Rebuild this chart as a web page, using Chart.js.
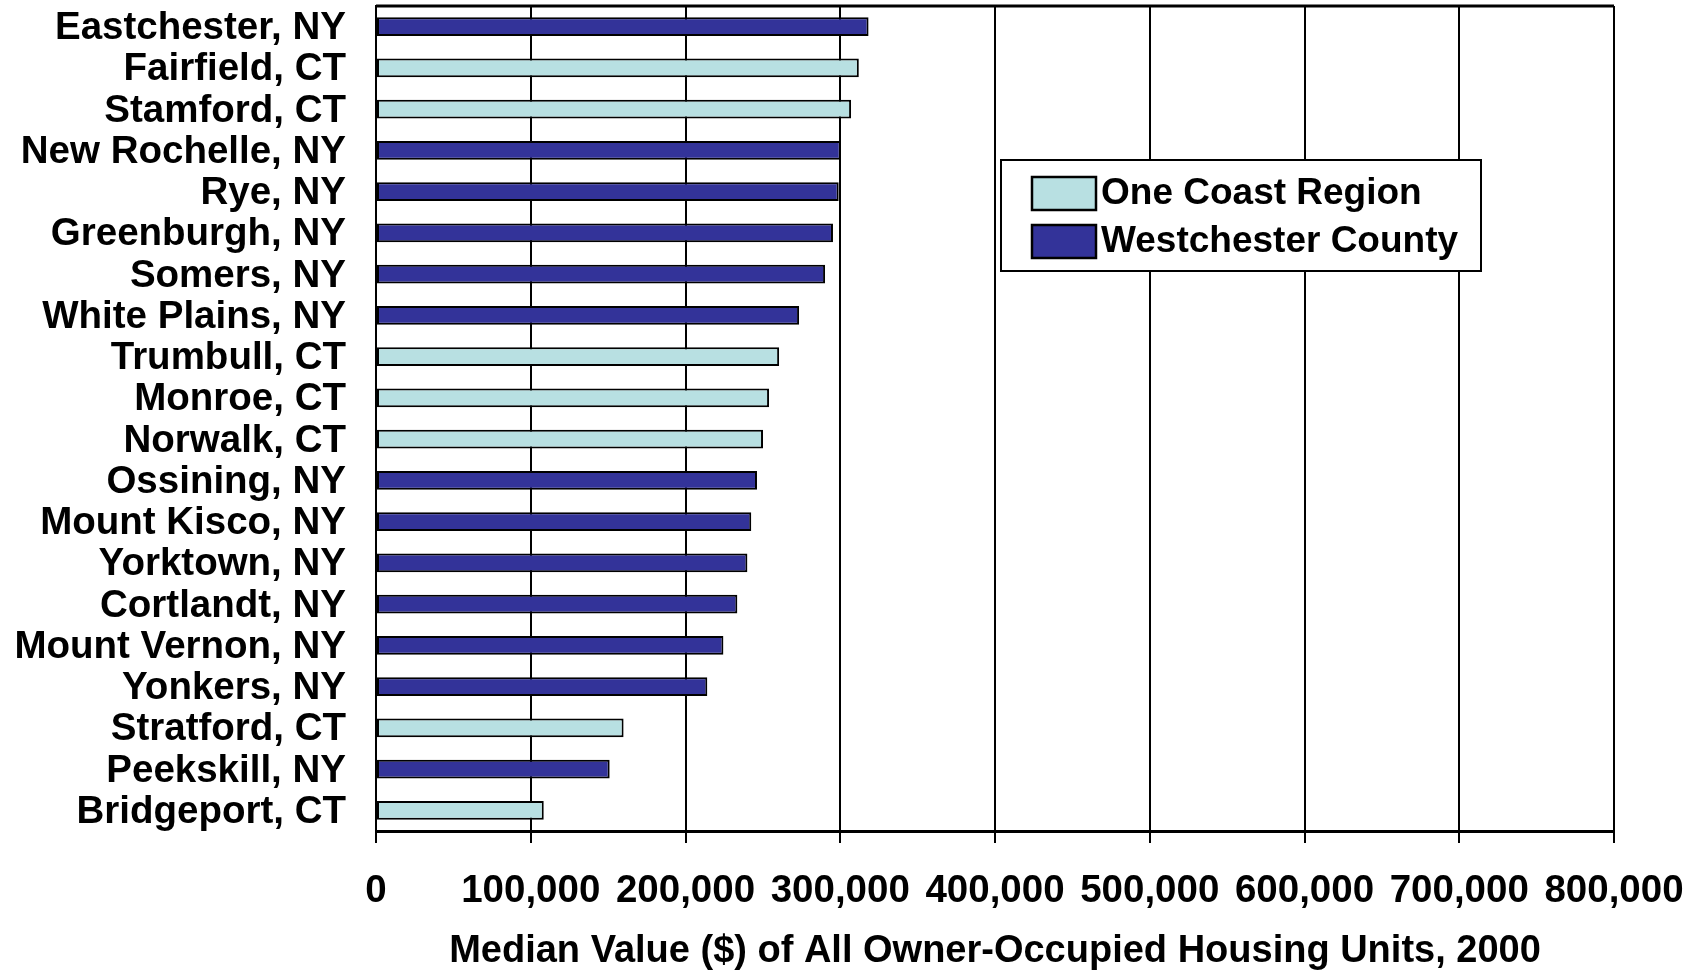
<!DOCTYPE html>
<html>
<head>
<meta charset="utf-8">
<script src="https://cdn.jsdelivr.net/npm/chart.js@4/dist/chart.umd.min.js"></script>
<style>
html,body{margin:0;padding:0;background:#fff;}
#wrap{width:1698px;height:971px;position:relative;}
</style>
</head>
<body>
<div id="wrap"><canvas id="c" width="1698" height="971"></canvas></div>
<script>
const categories = ["Eastchester, NY","Fairfield, CT","Stamford, CT","New Rochelle, NY","Rye, NY","Greenburgh, NY","Somers, NY","White Plains, NY","Trumbull, CT","Monroe, CT","Norwalk, CT","Ossining, NY","Mount Kisco, NY","Yorktown, NY","Cortlandt, NY","Mount Vernon, NY","Yonkers, NY","Stratford, CT","Peekskill, NY","Bridgeport, CT"];
const oneCoast = [null,312000,307000,null,null,null,null,null,260500,254000,250100,null,null,null,null,null,null,160000,null,108400];
const westchester = [318300,null,null,300300,299000,295300,290200,273400,null,null,null,246200,242500,240000,233500,224500,214100,null,151000,null];
const seriesNames = ["One Coast Region","Westchester County"];
const xTicks = {min:0,max:800000,step:100000};
const axisTitle = "Median Value ($) of All Owner-Occupied Housing Units, 2000";

const FONT = "'Liberation Sans', Arial, sans-serif";

const framePlugin = {
  id:'frame',
  beforeDatasetsDraw(chart){
    const a = chart.chartArea, ctx = chart.ctx;
    ctx.save();
    ctx.strokeStyle = '#000';
    ctx.lineWidth = 3;
    ctx.beginPath();
    ctx.moveTo(a.left, a.top);
    ctx.lineTo(a.right, a.top);
    ctx.stroke();
    ctx.restore();
  }
};

const legendPlugin = {
  id:'boxLegend',
  afterDraw(chart){
    const ctx = chart.ctx;
    const x0 = 1001, y0 = 160, w = 480, h = 111;
    ctx.save();
    ctx.fillStyle = '#fff';
    ctx.fillRect(x0, y0, w, h);
    ctx.strokeStyle = '#000';
    ctx.lineWidth = 2;
    ctx.strokeRect(x0, y0, w, h);
    const rows = [193, 241];
    chart.data.datasets.forEach((ds, i) => {
      const cy = rows[i];
      ctx.fillStyle = ds.backgroundColor;
      ctx.fillRect(1032, cy - 16, 64, 33);
      ctx.lineWidth = 2.5;
      ctx.strokeRect(1032, cy - 16, 64, 33);
      ctx.fillStyle = '#000';
      ctx.font = "bold 37px " + FONT;
      ctx.textBaseline = 'middle';
      ctx.textAlign = 'left';
      ctx.fillText(ds.label, 1101, cy + 1);
    });
    ctx.restore();
  }
};

new Chart(document.getElementById('c'), {
  type:'bar',
  data:{
    labels: categories,
    datasets:[
      {label: seriesNames[0], data: oneCoast, backgroundColor:'#B8E0E2', borderColor:'#000', borderWidth:2, borderSkipped:false, barPercentage:0.45, categoryPercentage:1},
      {label: seriesNames[1], data: westchester, backgroundColor:'#333399', borderColor:'#000', borderWidth:2, borderSkipped:false, barPercentage:0.45, categoryPercentage:1}
    ]
  },
  options:{
    indexAxis:'y',
    responsive:false,
    animation:false,
    devicePixelRatio:1,
    layout:{padding:{left:0,right:84,top:6,bottom:0}},
    plugins:{legend:{display:false}, tooltip:{enabled:false}, title:{display:false}},
    scales:{
      y:{
        stacked:true,
        grid:{display:false, drawTicks:false},
        border:{display:true, color:'#000', width:2},
        ticks:{color:'#000', padding:30, labelOffset:2, autoSkip:false, font:{family:FONT, size:38.5, weight:'bold', lineHeight:1}},
        afterFit(s){ s.width = 376; s.paddingTop = 0; s.paddingBottom = 0; }
      },
      x:{
        stacked:true,
        min:xTicks.min, max:xTicks.max,
        grid:{display:true, color:'#000', lineWidth:2, drawTicks:true, tickLength:12, tickColor:'#000'},
        border:{display:true, color:'#000', width:3},
        ticks:{stepSize:xTicks.step, color:'#000', padding:25, maxRotation:0, autoSkip:false,
          font:{family:FONT, size:38.5, weight:'bold'},
          callback:(v)=> Number(v).toLocaleString('en-US')},
        title:{display:true, text:axisTitle, color:'#000', padding:{top:10,bottom:0}, font:{family:FONT, size:38, weight:'bold', lineHeight:1}},
        afterFit(s){ s.height = 140; s.paddingLeft = 0; s.paddingRight = 0; }
      }
    }
  },
  plugins:[framePlugin, legendPlugin]
});
</script>
</body>
</html>
